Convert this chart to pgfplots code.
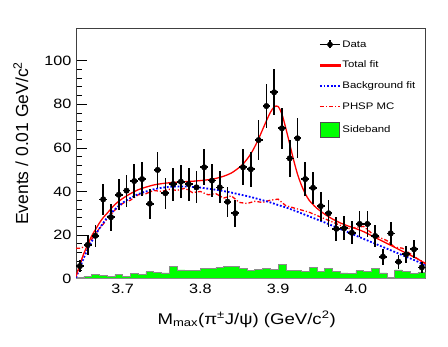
\documentclass[border=0pt]{standalone}
\usepackage{fontspec}
\setmainfont[FakeStretch=1.2]{Liberation Sans}
\newfontfamily\plainsans{Liberation Sans}
\usepackage{pgfplots}
\pgfplotsset{compat=1.18}
\usepackage{pgfplotstable}

\definecolor{rootgreen}{RGB}{0,255,0}
\definecolor{rootred}{RGB}{255,0,0}
\definecolor{rootblue}{RGB}{0,0,255}

% data points: bin centre, counts, half bin width, error
\pgfplotstableread{
x      y     ex     ey
3.645  5.8   0.005  2.8
3.655  15.5  0.005  4.6
3.665  19.7  0.005  5.1
3.675  36.4  0.005  7.0
3.685  28.2  0.005  6.1
3.695  38.5  0.005  7.1
3.705  40.4  0.005  7.3
3.715  44.8  0.005  7.7
3.725  45.7  0.005  7.8
3.735  34.4  0.005  6.8
3.745  49.9  0.005  8.1
3.755  39.2  0.005  7.2
3.765  43.4  0.005  7.6
3.775  44.5  0.005  7.7
3.785  43.4  0.005  7.6
3.795  41.9  0.005  7.4
3.805  51.1  0.005  8.2
3.815  45.0  0.005  7.7
3.825  41.9  0.005  7.4
3.835  35.3  0.005  6.8
3.845  30.0  0.005  6.3
3.855  51.1  0.005  8.2
3.865  50.2  0.005  8.1
3.875  63.6  0.005  9.2
3.885  79.2  0.005  10.2
3.895  85.5  0.005  10.6
3.905  69.0  0.005  9.5
3.915  55.2  0.005  8.5
3.925  64.4  0.005  9.2
3.935  45.7  0.005  7.8
3.945  41.7  0.005  7.4
3.955  33.3  0.005  6.6
3.965  30.0  0.005  6.3
3.975  22.9  0.005  5.5
3.985  23.1  0.005  5.5
3.995  21.1  0.005  5.3
4.005  25.1  0.005  5.8
4.015  25.1  0.005  5.8
4.025  19.6  0.005  5.1
4.035  10.1  0.005  3.7
4.045  20.8  0.005  5.2
4.055  7.8   0.005  3.2
4.065  11.2  0.005  3.9
4.075  13.5  0.005  4.2
4.085  5.2   0.005  2.6
}\datatab

\begin{document}
\begin{tikzpicture}
\begin{axis}[
  name=ax,
  scale only axis,
  width=349.7pt, height=250.7pt,
  xmin=3.64, xmax=4.09,
  ymin=0, ymax=115,
  xtick={3.7,3.8,3.9,4.0},
  xticklabels={3.7,3.8,3.9,4.0},
  xtick style={draw=none},
  ytick={0,20,40,60,80,100},
  minor y tick num=4,
  ytick pos=left,
  tick align=inside,
  major tick length=10.5pt,
  minor tick length=5.5pt,
  tick style={black, line width=0.8pt},
  axis line style={black!75, line width=0.7pt},
  /pgf/number format/assume math mode=true,
  ticklabel style={font=\fontsize{13.5}{15}\selectfont},
  xticklabel style={yshift=-2pt},
  yticklabel style={xshift=-1pt},
  xlabel={M\textsubscript{max}(π\textsuperscript{±}J/ψ) (GeV/c\textsuperscript{2})},
  xlabel style={font=\fontsize{15.5}{17}\selectfont, at={(axis description cs:0.488,-0.162)}, anchor=center},
  ylabel={Events / 0.01 GeV/c\textsuperscript{2}},
  ylabel style={font=\plainsans\fontsize{17.5}{19}\selectfont, at={(axis description cs:-0.158,0.54)}, anchor=center},
  legend style={at={(axis description cs:0.686,0.965)}, anchor=north west,
    draw=none, fill=none, font=\fontsize{9.5}{11}\selectfont,
    row sep=9.5pt, cells={anchor=west},
    nodes={inner sep=1.5pt}},
]
  % legend, in the order of the original
  \addlegendimage{legend image code/.code={
    \draw[black, line width=1.5pt] (0pt,0pt) -- (20pt,0pt);
    \draw[black, line width=1.5pt] (10pt,-4pt) -- (10pt,4pt);
    \fill[black] (10pt,0pt) circle (2.6pt);}}
  \addlegendentry{Data}
  \addlegendimage{legend image code/.code={
    \fill[rootred] (0pt,-0.7pt) rectangle (20pt,0.7pt);}}
  \addlegendentry{Total fit}
  \addlegendimage{legend image code/.code={
    \draw[rootblue, line width=1.8pt, dash pattern=on 1.8pt off 1.8pt] (0pt,0pt) -- (20pt,0pt);}}
  \addlegendentry{Background fit}
  \addlegendimage{legend image code/.code={
    \draw[rootred, line width=1.3pt, dash pattern=on 4pt off 2pt on 1.2pt off 2pt] (0pt,0pt) -- (20pt,0pt);}}
  \addlegendentry{PHSP MC}
  \addlegendimage{legend image code/.code={
    \draw[black!70, fill=rootgreen] (0pt,-7.5pt) rectangle (19pt,7.5pt);}}
  \addlegendentry{Sideband}

  % sideband histogram (left bin edges)
  \addplot[const plot, fill=rootgreen, draw=black!45, line width=0.5pt, forget plot] coordinates {
    (3.64,0.6) (3.65,1.2) (3.66,2.0) (3.67,1.7) (3.68,1.2) (3.69,2.0)
    (3.70,1.2) (3.71,2.4) (3.72,2.1) (3.73,3.2) (3.74,3.0) (3.75,2.7)
    (3.76,5.8) (3.77,4.0) (3.78,3.7) (3.79,3.7) (3.80,4.7) (3.81,4.7)
    (3.82,5.2) (3.83,5.8) (3.84,5.5) (3.85,4.7) (3.86,3.7) (3.87,4.3)
    (3.88,4.7) (3.89,4.3) (3.90,6.7) (3.91,3.7) (3.92,3.7) (3.93,3.2)
    (3.94,5.2) (3.95,3.2) (3.96,4.7) (3.97,3.2) (3.98,2.7) (3.99,2.4)
    (4.00,3.7) (4.01,3.2) (4.02,4.7) (4.03,2.7) (4.04,0.6) (4.05,4.0)
    (4.06,3.2) (4.07,2.4) (4.08,2.9) (4.09,2.9)
  } \closedcycle;

  % PHSP MC
  \addplot[rootred, line width=1.3pt, dash pattern=on 4pt off 2pt on 1.2pt off 2pt, forget plot] coordinates {
    (3.640,14) (3.645,14) (3.650,14.5) (3.655,15.5) (3.660,18) (3.665,20.5)
    (3.670,23) (3.675,25) (3.680,27.5) (3.690,31.5) (3.700,34.5) (3.710,36)
    (3.720,38.5) (3.730,39) (3.740,40.5) (3.750,40) (3.760,41) (3.770,40.5)
    (3.780,41.5) (3.790,39.5) (3.800,40) (3.810,38.5) (3.820,39) (3.830,37)
    (3.840,38) (3.850,35) (3.860,34.5) (3.870,35.5) (3.880,35) (3.890,36)
    (3.900,36.5) (3.910,33.5) (3.920,32.5) (3.930,31.5) (3.940,30.5) (3.950,29)
    (3.960,27.5) (3.970,26) (3.980,24.5) (3.990,23) (4.000,23.5) (4.010,24)
    (4.020,21) (4.030,19) (4.040,17.5) (4.050,14.5) (4.060,14) (4.070,11.5)
    (4.080,9) (4.090,7)
  };

  % background fit
  \addplot[rootblue, line width=1.8pt, dash pattern=on 1.8pt off 1.8pt, smooth, forget plot] coordinates {
    (3.640,0.5) (3.645,5) (3.650,9.5) (3.655,13.5) (3.660,17) (3.665,20)
    (3.670,23) (3.675,25.5) (3.680,28) (3.690,31.8) (3.700,34.8) (3.710,37)
    (3.720,38.8) (3.730,40) (3.740,41) (3.750,41.7) (3.760,42.1) (3.770,42.3)
    (3.780,42.3) (3.790,42.1) (3.800,41.8) (3.810,41.3) (3.820,40.8) (3.830,40.2)
    (3.840,39.5) (3.850,38.7) (3.860,37.9) (3.870,37) (3.880,36) (3.890,35)
    (3.900,33.8) (3.910,32.7) (3.920,31.4) (3.930,30) (3.940,28.6) (3.950,27.2)
    (3.960,25.8) (3.970,24.3) (3.980,22.8) (3.990,21.3) (4.000,19.8) (4.010,18.3)
    (4.020,16.8) (4.030,15.3) (4.040,13.8) (4.050,12.3) (4.060,10.8) (4.070,9.3)
    (4.080,7.8) (4.090,5.8)
  };

  % total fit
  \addplot[rootred, line width=1.3pt, smooth, forget plot] coordinates {
    (3.640,1) (3.645,6.5) (3.650,11.5) (3.655,15.5) (3.660,19.5) (3.665,22.5)
    (3.670,25.5) (3.675,28) (3.680,30) (3.690,34) (3.700,36.8) (3.710,39)
    (3.720,40.8) (3.730,42) (3.740,43) (3.750,43.6) (3.760,44) (3.770,44.3)
    (3.780,44.5) (3.790,44.7) (3.800,45) (3.810,45.4) (3.820,46) (3.830,47)
    (3.840,48.5) (3.850,51) (3.855,52.6) (3.860,54.8) (3.865,57.3) (3.870,60.5)
    (3.875,64.2) (3.880,68.3) (3.885,72.4) (3.890,76.2) (3.895,78.8) (3.900,79)
    (3.905,75.5) (3.910,69) (3.915,61.8) (3.920,54.5) (3.925,48) (3.930,43)
    (3.935,39) (3.940,36) (3.945,34) (3.950,32.3) (3.960,29.6) (3.970,27.4)
    (3.980,25.6) (3.990,24.2) (4.000,23) (4.010,21.6) (4.020,19.8) (4.030,18)
    (4.040,16.2) (4.050,14.4) (4.060,12.6) (4.070,10.8) (4.080,9) (4.090,6.8)
  };

  % data with error bars
  \addplot[black, only marks, mark=*, mark size=2.8pt, forget plot,
    error bars/.cd, x dir=both, x explicit, y dir=both, y explicit,
    error mark=none, error bar style={line width=1.7pt, black}]
    table[x=x, y=y, x error=ex, y error=ey] {\datatab};
\end{axis}
\pgfresetboundingbox
\path[use as bounding box] ([xshift=-76pt,yshift=-67.3pt]ax.south west)
  rectangle ([xshift=22.3pt,yshift=28pt]ax.north east);
\end{tikzpicture}
\end{document}
